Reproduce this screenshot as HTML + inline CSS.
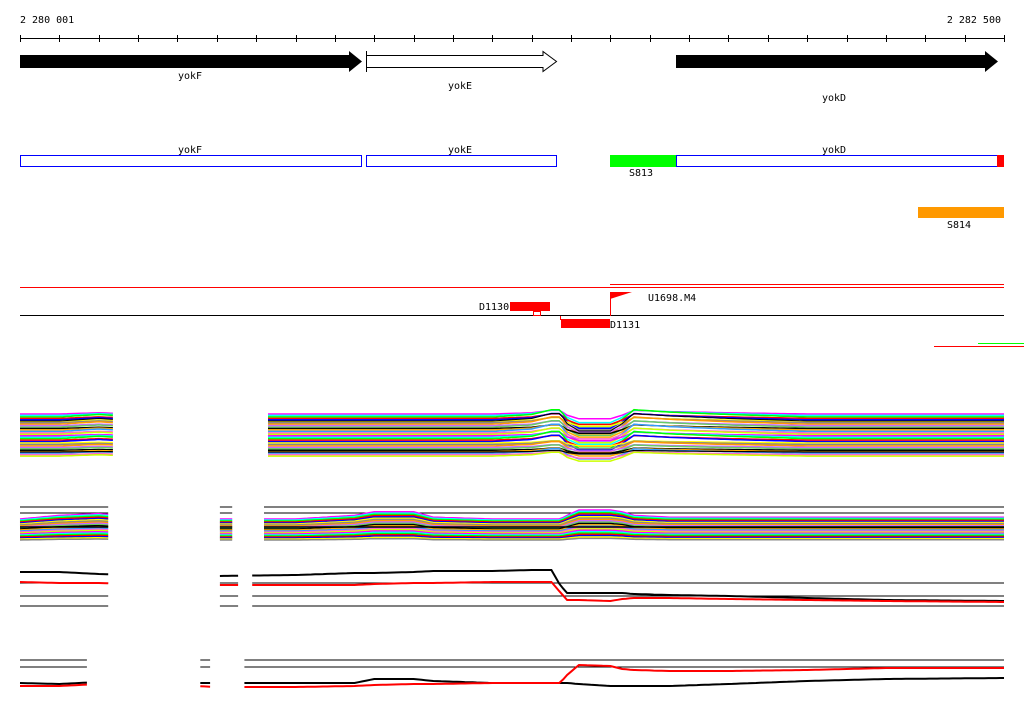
<!DOCTYPE html>
<html><head><meta charset="utf-8"><style>
html,body{margin:0;padding:0;background:#fff;width:1024px;height:714px;overflow:hidden}
svg{display:block}
text{font-family:"DejaVu Sans Mono","Liberation Mono",monospace;font-size:10px;fill:#000}
</style></head><body>
<svg id="chart" width="1024" height="714" viewBox="0 0 1024 714">
<g id="axis">
<text x="20" y="23">2 280 001</text>
<text x="1001" y="23" text-anchor="end">2 282 500</text>
<line x1="20" y1="38.5" x2="1004" y2="38.5" stroke="#000"/>
</g>
<g>
<polygon points="20,55 349,55 349,51 362,61.5 349,72 349,68 20,68" fill="#000"/>
<text x="190" y="79" text-anchor="middle">yokF</text>
<polygon points="366.5,55.5 543,55.5 543,51.5 556.5,61.5 543,71.5 543,67.5 366.5,67.5" fill="#fff" stroke="#000"/>
<line x1="366.5" y1="51" x2="366.5" y2="72" stroke="#000"/>
<text x="460" y="89" text-anchor="middle">yokE</text>
<polygon points="676,55 985,55 985,51 998,61.5 985,72 985,68 676,68" fill="#000"/>
<text x="834" y="101" text-anchor="middle">yokD</text>
</g>
<g>
<text x="190" y="153" text-anchor="middle">yokF</text>
<rect x="20.5" y="155.5" width="341" height="11" fill="none" stroke="#00f"/>
<text x="460" y="153" text-anchor="middle">yokE</text>
<rect x="366.5" y="155.5" width="190" height="11" fill="none" stroke="#00f"/>
<text x="834" y="153" text-anchor="middle">yokD</text>
<rect x="676.5" y="155.5" width="321" height="11" fill="none" stroke="#00f"/>
<rect x="610" y="155" width="66" height="12" fill="#0f0"/>
<text x="641" y="176" text-anchor="middle">S813</text>
<rect x="997" y="155" width="7" height="12" fill="#f00"/>
<rect x="918" y="207" width="86" height="11" fill="#f90"/>
<text x="959" y="228" text-anchor="middle">S814</text>
</g>
<g>
<line x1="610" y1="284.5" x2="1004" y2="284.5" stroke="#f00"/>
<line x1="20" y1="287.5" x2="1004" y2="287.5" stroke="#f00"/>
<line x1="20" y1="315.5" x2="1004" y2="315.5" stroke="#000"/>
<rect x="510" y="302" width="40" height="9" fill="#f00"/>
<rect x="533.5" y="311.5" width="7" height="4" fill="none" stroke="#f00"/>
<text x="479" y="310">D1130</text>
<line x1="560.5" y1="316" x2="560.5" y2="320" stroke="#f00"/>
<rect x="561" y="319" width="49" height="9" fill="#f00"/>
<text x="610" y="328">D1131</text>
<polygon points="610,292 632,292 610,299" fill="#f00"/>
<line x1="610.5" y1="292" x2="610.5" y2="316" stroke="#f00"/>
<text x="648" y="301">U1698.M4</text>
<line x1="934" y1="346.5" x2="1024" y2="346.5" stroke="#f00"/>
<line x1="978" y1="343.5" x2="1024" y2="343.5" stroke="#0f0"/>
</g>
<g id="plots"></g>
</svg>
<script>
// axis data
const tickStart = 2280001, tickEnd = 2282500, tickStep = 100;
// knot positions (bp offset within window)
const knots = [0,100,200,300,500,700,850,900,1000,1050,1200,1300,1350,1372,1390,1420,1500,1530,1560,1650,1800,2000,2200,2500];
const prof1 = [0,0,1,0,0,0,0,0,0,0,0,1,3,3,-1,-4,-4,-1,3,2,1,0,0,0];
const prof2 = [0,2,3,1,0,0,2,4,4,1,0,0,0,0,2,5,5,4,2,1,1,1,1,1];
const band3Black = [572,572,574,575,576,575,573,573,572,571,571,570,570,585,593,593,593,593,594,595,596,598,600,601];
const band3Red = [582,583,583,584,585,585,585,584,583,583,582,582,582,592,600,600,601,599,598,598,599,600,601,602];
const band4Black = [683,684,682,683,683,683,683,679,679,681,683,683,683,683,683,684,686,686,686,686,684,681,679,678];
const band4Red = [686,686,684,683,687,687,686,685,684,684,683,683,683,683,675,665,666,669,670,671,671,670,668,668];
const colors = ["#f0f","#0ff","#0f0","#f00","#00f","#ff0","#888","#f90","#c6f","#6c6","#000","#fa0","#39f","#f6c","#ccff00"];
const segs1 = [[0, 236], [630, 2500]];
const segs2 = [[0, 224], [508, 539], [620, 2500]];
const segs3 = [[0, 224], [508, 554], [590, 2500]];
const segs4 = [[0, 170], [458, 483], [570, 2500]];
const W0 = 20, W1 = 1004;
function xs(bp){return W0 + bp/(tickEnd-tickStart+1)*(W1-W0);}
function lerp(arr,bp){for(let i=0;i<knots.length-1;i++){if(bp<=knots[i+1]){const t=(bp-knots[i])/(knots[i+1]-knots[i]);return arr[i]+t*(arr[i+1]-arr[i]);}}return arr[arr.length-1];}
const NS="http://www.w3.org/2000/svg";
const axis=document.getElementById('axis');
for(let bp=0;bp<=tickEnd-tickStart+1;bp+=tickStep){
 const l=document.createElementNS(NS,'line');const x=Math.round(xs(bp))+0.5;
 l.setAttribute('x1',x);l.setAttribute('x2',x);l.setAttribute('y1',35);l.setAttribute('y2',42);l.setAttribute('stroke','#000');
 
 
 axis.appendChild(l);
}
const plots=document.getElementById('plots');
function poly(segs,fn,color,w,name){
 segs.forEach(s=>{
  let pts=[];
  for(let bp=s[0];bp<s[1];bp+=10){pts.push(xs(bp).toFixed(1)+','+fn(bp).toFixed(1));}
  pts.push(xs(s[1]).toFixed(1)+','+fn(s[1]).toFixed(1));
  const p=document.createElementNS(NS,'polyline');
  p.setAttribute('points',pts.join(' '));p.setAttribute('fill','none');p.setAttribute('stroke',color);p.setAttribute('stroke-width',w);
  
  
  plots.appendChild(p);
 });
}
// band 1
for(let i=0;i<30;i++){
 const base=414+i*1.45, amp=1.2+((i*7)%5)*0.3;
 poly(segs1,bp=>base - lerp(prof1,bp)*amp*(i<20?1:0.6),colors[i%colors.length],1.5,'band1-series');
}
poly(segs1,bp=>452 - lerp(prof1,bp)*0.5,"#000",1.2,'band1-baseline');
poly(segs1,bp=>421 - lerp(prof1,bp)*2.5,"#000",1,'band1-top');
// band 2
[507,513].forEach(y=>poly(segs2,bp=>y,"#000",1,'band2-reference'));
for(let i=0;i<22;i++){
 const base=519+i*1.0, amp=1.8-i*0.07;
 poly(segs2,bp=>base - lerp(prof2,bp)*Math.max(amp,0.3),colors[i%colors.length],1.5,'band2-series');
}
poly(segs2,bp=>527,"#000",1.5,'band2-mean');
// band 3
[583,596,606].forEach(y=>poly(segs3,bp=>y,"#000",1,'band3-reference'));
poly(segs3,bp=>lerp(band3Black,bp),"#000",2,'band3-black-series');
poly(segs3,bp=>lerp(band3Red,bp),"#f00",2,'band3-red-series');
// band 4
[660,667].forEach(y=>poly(segs4,bp=>y,"#000",1,'band4-reference'));
poly(segs4,bp=>lerp(band4Black,bp),"#000",2,'band4-black-series');
poly(segs4,bp=>lerp(band4Red,bp),"#f00",2,'band4-red-series');
</script>
</body></html>
